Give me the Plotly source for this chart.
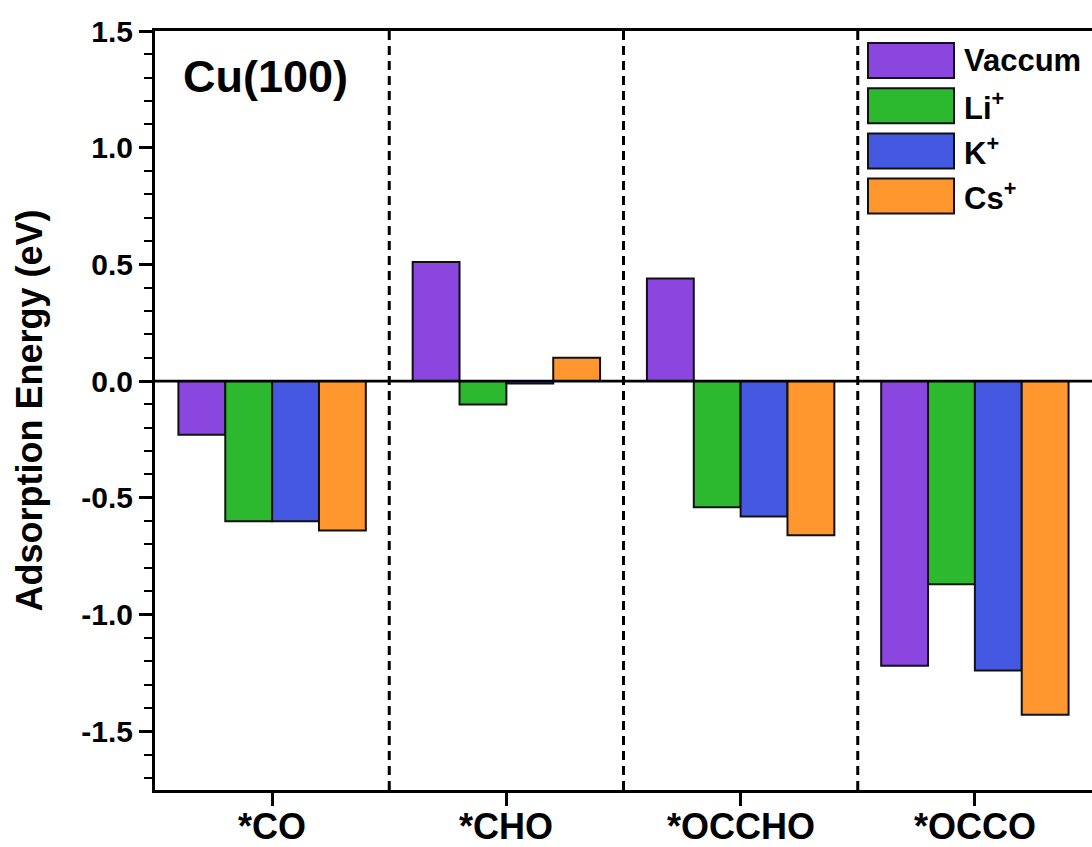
import plotly.graph_objects as go

# Adsorption energies (eV) on Cu(100) for each intermediate
categories = ["*CO", "*CHO", "*OCCHO", "*OCCO"]
series_names = ["Vaccum", "Li<sup>+</sup>", "K<sup>+</sup>", "Cs<sup>+</sup>"]
vaccum = [-0.23, 0.51, 0.44, -1.22]
li = [-0.60, -0.10, -0.54, -0.87]
k = [-0.60, -0.01, -0.58, -1.24]
cs = [-0.64, 0.10, -0.66, -1.43]
series_values = [vaccum, li, k, cs]
colors = ["#8A46DE", "#2DB92F", "#4558E2", "#FF962E"]

y_tickvals = [-1.5, -1.0, -0.5, 0.0, 0.5, 1.0, 1.5]
y_ticktext = ["-1.5", "-1.0", "-0.5", "0.0", "0.5", "1.0", "1.5"]

W, H = 1092, 847
ML, MR, MT, MB = 155, 0, 31, 57
PW, PH = W - ML - MR, H - MT - MB
FONT = "Liberation Sans, Arial, sans-serif"


def px_x(p):
    return (p - ML) / PW


def px_y(p):
    return 1 - (p - MT) / PH


fig = go.Figure()
for name, vals, col in zip(series_names, series_values, colors):
    fig.add_trace(go.Bar(
        x=categories, y=vals, name=name,
        marker=dict(color=col, line=dict(color="#111111", width=2)),
        showlegend=False,
    ))

shapes = []
# zero reference line
shapes.append(dict(type="line", xref="paper", yref="y", x0=0, x1=1, y0=0, y1=0,
                   line=dict(color="black", width=2.6), layer="above"))
# dashed separators between intermediates
for i in range(len(categories) - 1):
    shapes.append(dict(type="line", xref="x", yref="paper", x0=i + 0.5, x1=i + 0.5,
                       y0=0, y1=1, line=dict(color="black", width=3, dash="9px,6px")))

annotations = [dict(text="Cu(100)", xref="paper", yref="paper",
                    x=px_x(181), y=px_y(77), xanchor="left", yanchor="middle",
                    showarrow=False,
                    font=dict(family=FONT, size=45, color="black", weight="bold"))]

# category labels under the x axis
for cat in categories:
    annotations.append(dict(text=cat, xref="x", yref="paper", x=cat, y=px_y(826),
                            xanchor="center", yanchor="middle", showarrow=False,
                            font=dict(family=FONT, size=36, color="black", weight="bold")))

# legend with large swatches
for i, (name, col) in enumerate(zip(series_names, colors)):
    top = 43 + i * 45.2
    shapes.append(dict(type="rect", xref="paper", yref="paper",
                       x0=px_x(868), x1=px_x(954), y0=px_y(top), y1=px_y(top + 35),
                       fillcolor=col, line=dict(color="#111111", width=2)))
    annotations.append(dict(text=name, xref="paper", yref="paper",
                            x=px_x(962), y=px_y(top + 17.5), xanchor="left",
                            yanchor="middle", showarrow=False,
                            font=dict(family=FONT, size=31, color="black", weight="bold")))

fig.update_layout(
    width=W, height=H,
    margin=dict(l=ML, r=MR, t=MT, b=MB),
    paper_bgcolor="white", plot_bgcolor="white",
    barmode="group", bargap=0.2, bargroupgap=0,
    shapes=shapes, annotations=annotations,
    font=dict(family=FONT, color="black"),
    showlegend=False,
)
fig.update_xaxes(
    type="category", range=[-0.5, 3.5], automargin=False,
    showline=True, linecolor="black", linewidth=3, mirror=True,
    ticks="outside", ticklen=13, tickwidth=2.5, tickcolor="black",
    showticklabels=False,
    showgrid=False, zeroline=False,
)
fig.update_yaxes(
    range=[-1.752, 1.5], automargin=False,
    tickvals=y_tickvals, ticktext=y_ticktext,
    showline=True, linecolor="black", linewidth=3, mirror=False,
    ticks="outside", ticklen=13, tickwidth=2.5, tickcolor="black",
    minor=dict(dtick=0.1, ticks="outside", ticklen=8, tickwidth=2, tickcolor="black", showgrid=False),
    tickfont=dict(family=FONT, size=30, color="black", weight="bold"),
    title=dict(text="Adsorption Energy (eV)", standoff=28,
               font=dict(family=FONT, size=36, color="black", weight="bold")),
    showgrid=False, zeroline=False,
)

fig.write_html("out.html")
